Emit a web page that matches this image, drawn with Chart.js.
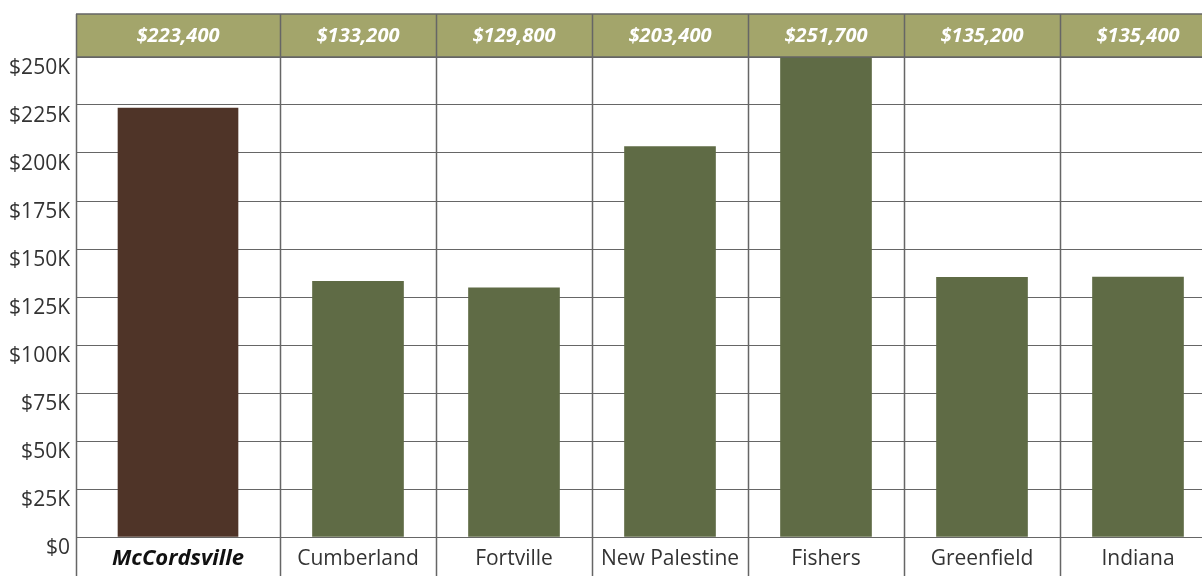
<!DOCTYPE html>
<html>
<head>
<meta charset="utf-8">
<script src="https://cdn.jsdelivr.net/npm/chart.js@4"></script>
<style>
  html, body { margin: 0; padding: 0; background: #fff; overflow: hidden; }
  #wrap { width: 1216px; height: 576px; }
</style>
</head>
<body>
<div id="wrap"><canvas id="valuesChart"></canvas></div>
<script>
// data
const places = ["McCordsville", "Cumberland", "Fortville", "New Palestine", "Fishers", "Greenfield", "Indiana"];
const medianValues = [223400, 133200, 129800, 203400, 251700, 135200, 135400];
const yTicks = [0, 25000, 50000, 75000, 100000, 125000, 150000, 175000, 200000, 225000, 250000];

// layout: relative column widths (first column is wider)
const colWeights = [204, 156, 156, 156, 156, 156, 156];
const colEdges = [0];
colWeights.forEach((w, i) => colEdges.push(colEdges[i] + w));
const colTotal = colEdges[colEdges.length - 1];

const BAND = "#a3a56b";
const LINE = "#666666";
const FONT = "'Open Sans', 'Noto Sans', sans-serif";

// category scale with uneven column widths
class WeightedCategoryScale extends Chart.CategoryScale {
  static id = "weightedCategory";
  getPixelForValue(value) {
    if (typeof value !== "number") value = this.parse(value);
    const v = value + 0.5;
    const i = Math.max(0, Math.min(colWeights.length - 1, Math.floor(v)));
    const pos = colEdges[i] + (v - i) * colWeights[i];
    return this.left + (pos / colTotal) * this.width;
  }
}
Chart.register(WeightedCategoryScale);

const fmtMoney = (v) => "$" + v.toLocaleString("en-US");

const headerBand = {
  id: "headerBand",
  afterDraw(chart) {
    const { ctx, chartArea, scales } = chart;
    const x = scales.x;
    const bandTop = 14;
    ctx.save();
    ctx.fillStyle = BAND;
    ctx.fillRect(chartArea.left, bandTop, chartArea.right - chartArea.left, chartArea.top - bandTop);
    ctx.strokeStyle = LINE;
    ctx.lineWidth = 1.5;
    ctx.beginPath();
    ctx.moveTo(chartArea.left, bandTop);
    ctx.lineTo(chartArea.right, bandTop);
    ctx.moveTo(chartArea.left, chartArea.top);
    ctx.lineTo(chartArea.right, chartArea.top);
    // column separators
    for (let i = 0; i <= places.length; i++) {
      const px = Math.round(x.getPixelForValue(i - 0.5)) + 0.5;
      ctx.moveTo(px, bandTop);
      ctx.lineTo(px, chart.height);
    }
    ctx.stroke();
    // values in the band
    ctx.fillStyle = "#ffffff";
    ctx.font = "italic bold 20px " + FONT;
    ctx.textAlign = "center";
    ctx.textBaseline = "middle";
    medianValues.forEach((v, i) => {
      ctx.fillText(fmtMoney(v), x.getPixelForValue(i), (bandTop + chartArea.top) / 2 + 1);
    });
    ctx.restore();
  }
};

new Chart(document.getElementById("valuesChart"), {
  type: "bar",
  data: {
    labels: places,
    datasets: [
      {
        label: "McCordsville",
        data: medianValues.map((v, i) => (i === 0 ? v : null)),
        backgroundColor: "#4f3428",
        barThickness: 120,
        grouped: false
      },
      {
        label: "Others",
        data: medianValues.map((v, i) => (i === 0 ? null : v)),
        backgroundColor: "#5f6b45",
        barThickness: 91,
        grouped: false
      }
    ]
  },
  options: {
    responsive: true,
    maintainAspectRatio: false,
    animation: false,
    layout: { padding: { top: 57, right: 0, bottom: 0, left: 0 } },
    plugins: {
      legend: { display: false },
      tooltip: { enabled: false }
    },
    scales: {
      x: {
        type: "weightedCategory",
        grid: { display: false, drawTicks: false },
        border: { display: false },
        afterFit(scale) { scale.height = 39; },
        ticks: {
          padding: 9,
          maxRotation: 0,
          autoSkip: false,
          color: (ctx) => (ctx.index === 0 ? "#111" : "#333"),
          font: (ctx) => ctx.index === 0
            ? { family: FONT, size: 22, weight: "bold", style: "italic" }
            : { family: FONT, size: 21 }
        }
      },
      y: {
        min: 0,
        max: 250000,
        afterFit(scale) { scale.width = 76; },
        afterBuildTicks(scale) { scale.ticks = yTicks.map((v) => ({ value: v })); },
        grid: { color: LINE, lineWidth: 1, drawTicks: false },
        border: { display: false },
        ticks: {
          padding: 6,
          labelOffset: 11,
          color: "#333",
          font: { family: FONT, size: 21 },
          callback: (v) => (v === 0 ? "$0" : "$" + v / 1000 + "K")
        }
      }
    }
  },
  plugins: [headerBand]
});
</script>
</body>
</html>
